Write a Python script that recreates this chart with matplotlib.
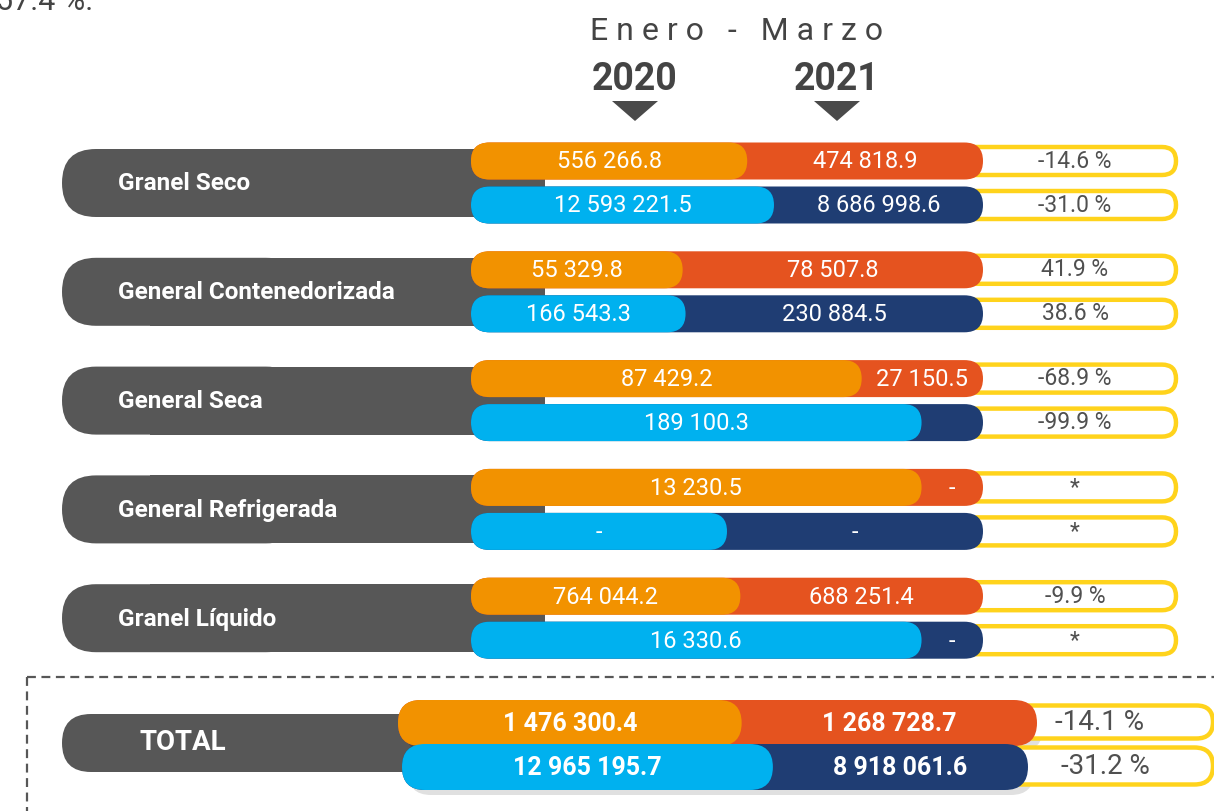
import matplotlib as mpl
import matplotlib.pyplot as plt
from matplotlib.patches import FancyBboxPatch, Rectangle, Polygon
import numpy as np

# data
categories = ['Granel Seco', 'General Contenedorizada', 'General Seca',
              'General Refrigerada', 'Granel Líquido']
ton_2020 = [556266.8, 55329.8, 87429.2, 13230.5, 764044.2]
ton_2021 = [474818.9, 78507.8, 27150.5, None, 688251.4]
sec_2020 = [12593221.5, 166543.3, 189100.3, None, 16330.6]
sec_2021 = [8686998.6, 230884.5, np.nan, None, None]
pct_ton = ['-14.6 %', '41.9 %', '-68.9 %', '*', '-9.9 %']
pct_sec = ['-31.0 %', '38.6 %', '-99.9 %', '*', '*']

total_ton = [1476300.4, 1268728.7]
total_sec = [12965195.7, 8918061.6]
total_pct = ['-14.1 %', '-31.2 %']

years = ['2020', '2021']
period = 'E n e r o   -   M a r z o'

ORANGE = '#F29200'
RED = '#E5531F'
CYAN = '#00B1EF'
NAVY = '#1F3D73'
GRAY = '#575757'
YELLOW = '#FFD31C'
TXT = '#505050'

FONT = 'Roboto'


def fmt(v):
    if v is None:
        return '-'
    if isinstance(v, float) and np.isnan(v):
        return ''
    return f'{v:,.1f}'.replace(',', ' ')


def share(a, b):
    a = 0 if a is None or np.isnan(a) else a
    b = 0 if b is None or np.isnan(b) else b
    if a + b == 0:
        return 0.5
    return min(max(a / (a + b), 0.3), 0.88)


def pill(ax, x0, x1, yc, h, color, **kw):
    p = FancyBboxPatch((x0, yc - h / 2), x1 - x0, h,
                       boxstyle=f'round,pad=0,rounding_size={h / 2}',
                       facecolor=color, edgecolor=kw.pop('ec', 'none'), **kw)
    ax.add_patch(p)
    return p


fig = plt.figure(figsize=(12.14, 8.11), dpi=100)
ax = fig.add_axes([0, 0, 1, 1])
ax.set_xlim(0, 1214)
ax.set_ylim(811, 0)
ax.axis('off')

# header (the first line is cut by the top edge, as in the source page)
ax.text(-4, 2, '57.4 %.', fontsize=22, color='#444444', family=FONT,
        ha='left', va='center')
ax.text(737, 31, period, fontsize=23, color='#444444', family=FONT,
        ha='center', va='center')
for xc, yr in zip([635, 837], years):
    ax.text(xc, 79, yr, fontsize=27, fontweight='bold', color='#444444',
            family=FONT, ha='center', va='center')
    ax.add_patch(Polygon([[xc - 23, 101], [xc + 23, 101], [xc, 121]],
                         closed=True, facecolor='#4a4a4a', edgecolor='none'))


def bar_pair(ax, yc, x0, x1, h, c1, c2, v1, v2, bold=False, fs=17):
    s = share(v1, v2)
    xs = x0 + s * (x1 - x0)
    pill(ax, x0, x1, yc, h, c2, zorder=3)
    pill(ax, x0, xs, yc, h, c1, zorder=4)
    fw = 'bold' if bold else 'normal'
    ax.text((x0 + xs) / 2, yc + 1, fmt(v1), color='white', fontsize=fs,
            fontweight=fw, family=FONT, ha='center', va='center', zorder=5)
    ax.text((xs + x1) / 2, yc + 1, fmt(v2), color='white', fontsize=fs,
            fontweight=fw, family=FONT, ha='center', va='center', zorder=5)


def pct_box(ax, yc, x0, x1, h, txt, xt, fs=16.5):
    pill(ax, x0, x1, yc, h, 'white', ec=YELLOW, lw=3.2, zorder=2)
    ax.text(xt, yc, txt, color=TXT, fontsize=fs,
            family=FONT, ha='center', va='center', zorder=5)


for i, cat in enumerate(categories):
    yc = 183 + i * 108.8
    pill(ax, 62, 300, yc, 68, GRAY, zorder=1)
    ax.add_patch(Rectangle((150, yc - 34), 395, 68, facecolor=GRAY,
                           edgecolor='none', zorder=1))
    ax.text(118, yc + 1, cat, color='white', fontsize=17.5, fontweight='bold',
            family=FONT, ha='left', va='center', zorder=5)
    yt, yb = yc - 22, yc + 22
    pct_box(ax, yt, 940, 1176, 28, pct_ton[i], 1075)
    pct_box(ax, yb, 940, 1176, 28, pct_sec[i], 1075)
    bar_pair(ax, yt, 471, 983, 37, ORANGE, RED, ton_2020[i], ton_2021[i])
    bar_pair(ax, yb, 471, 983, 37, CYAN, NAVY, sec_2020[i], sec_2021[i])

# total block
ax.plot([27, 1214], [677, 677], color=GRAY, lw=1.6, ls=(0, (4, 2.5)))
ax.plot([27, 27], [677, 811], color=GRAY, lw=1.6, ls=(0, (4, 2.5)))

yc = 743
pill(ax, 62, 300, yc, 58, GRAY, zorder=1)
ax.add_patch(Rectangle((150, yc - 29), 300, 58, facecolor=GRAY,
                       edgecolor='none', zorder=1))
ax.text(140, yc, 'TOTAL', color='white', fontsize=20, fontweight='bold',
        family=FONT, ha='left', va='center', zorder=5)

# shadows
pill(ax, 404, 1043, 728, 46, '#000000', alpha=0.12, zorder=2)
pill(ax, 408, 1034, 772, 46, '#000000', alpha=0.12, zorder=2)

pct_box(ax, 722, 1000, 1213, 33, total_pct[0], 1100, fs=20)
pct_box(ax, 766, 1000, 1213, 37, total_pct[1], 1105, fs=20)
bar_pair(ax, 723, 398, 1037, 46, ORANGE, RED, total_ton[0], total_ton[1],
         bold=True, fs=18)
bar_pair(ax, 767, 402, 1028, 46, CYAN, NAVY, total_sec[0], total_sec[1],
         bold=True, fs=18)

fig.savefig('out.png', dpi=100)
